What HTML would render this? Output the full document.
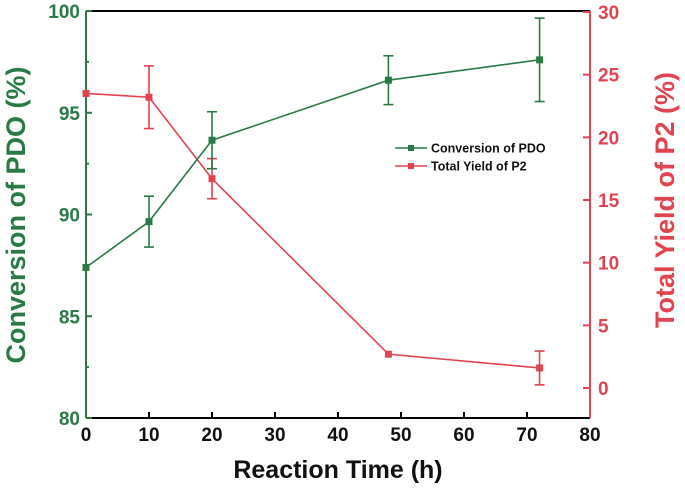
<!DOCTYPE html>
<html><head><meta charset="utf-8"><style>body{margin:0;background:#fff}svg{display:block}</style></head>
<body>
<svg id="chart" width="685" height="500" xmlns="http://www.w3.org/2000/svg" font-family="Liberation Sans, sans-serif" font-weight="bold"></svg>
<script>
const times = [0, 10, 20, 48, 72];
const conversion = [87.4, 89.65, 93.65, 96.6, 97.6];
const conversionErr = [0, 1.25, 1.4, 1.2, 2.05];
const yieldP2 = [23.5, 23.2, 16.7, 2.7, 1.6];
const yieldErr = [0, 2.5, 1.6, 0, 1.35];
const xTicks = [0, 10, 20, 30, 40, 50, 60, 70, 80];
const leftTicks = [80, 85, 90, 95, 100];
const rightTicks = [0, 5, 10, 15, 20, 25, 30];

const G = '#2a7a45', R = '#e0444f';
const X0 = 86, X1 = 590, YT = 11, YB = 418;
const xs = v => X0 + (v - 0) / 80 * (X1 - X0);
const yl = v => YB - (v - 80) / 20 * (YB - YT);
const yr = v => 388 - v * (388 - 12) / 30;
const svg = document.getElementById('chart');
const NS = 'http://www.w3.org/2000/svg';
function el(tag, attrs, parent) {
  const e = document.createElementNS(NS, tag);
  for (const k in attrs) e.setAttribute(k, attrs[k]);
  (parent || svg).appendChild(e);
  return e;
}
// axes
let a;
a = el('line', {x1: X0, y1: YT, x2: X1, y2: YT, stroke: '#000', 'stroke-width': 2});


a = el('line', {x1: X0, y1: YB, x2: X1, y2: YB, stroke: '#000', 'stroke-width': 2});


a = el('line', {x1: X0, y1: YT, x2: X0, y2: YB, stroke: G, 'stroke-width': 2});


a = el('line', {x1: X1, y1: YT, x2: X1, y2: YB, stroke: R, 'stroke-width': 2});



xTicks.forEach(v => {
  const x = xs(v);
  if (v > 0 && v < 80) el('line', {x1: x, y1: YB, x2: x, y2: YB - 6, stroke: '#000', 'stroke-width': 2});
  const t = el('text', {x: x, y: YB + 23, 'text-anchor': 'middle', 'font-size': 19, fill: '#111'});
  t.textContent = v;
  
  
});
leftTicks.forEach(v => {
  const y = yl(v);
  el('line', {x1: X0, y1: y, x2: X0 + 6, y2: y, stroke: G, 'stroke-width': 2});
  if (v < 100) el('line', {x1: X0, y1: yl(v + 2.5), x2: X0 + 3, y2: yl(v + 2.5), stroke: G, 'stroke-width': 2});
  const t = el('text', {x: X0 - 6, y: y + 7, 'text-anchor': 'end', 'font-size': 19, fill: G});
  t.textContent = v;
  
  
});
rightTicks.forEach(v => {
  const y = yr(v);
  el('line', {x1: X1, y1: y, x2: X1 - 7, y2: y, stroke: R, 'stroke-width': 2});
  const t = el('text', {x: X1 + 8, y: y + 7, 'font-size': 19, fill: R});
  t.textContent = v;
  
  
});

function series(vals, errs, yf, color, name) {
  const g = el('g', {});
  
  
  el('polyline', {points: times.map((t, i) => xs(t) + ',' + yf(vals[i])).join(' '), fill: 'none', stroke: color, 'stroke-width': 1.6}, g);
  times.forEach((t, i) => {
    const x = xs(t);
    if (errs[i] > 0) {
      const y1 = yf(vals[i] + errs[i]), y2 = yf(vals[i] - errs[i]);
      el('line', {x1: x, y1: y1, x2: x, y2: y2, stroke: color, 'stroke-width': 1.6}, g);
      el('line', {x1: x - 5, y1: y1, x2: x + 5, y2: y1, stroke: color, 'stroke-width': 1.6}, g);
      el('line', {x1: x - 5, y1: y2, x2: x + 5, y2: y2, stroke: color, 'stroke-width': 1.6}, g);
    }
    const m = el('rect', {x: x - 3.5, y: yf(vals[i]) - 3.5, width: 7, height: 7, fill: color}, g);
    
    
  });
}
series(yieldP2, yieldErr, yr, R, 'yield-series');
series(conversion, conversionErr, yl, G, 'conversion-series');

// legend
const lg = el('g', {});


[[G, 'Conversion of PDO', 148], [R, 'Total Yield of P2', 166]].forEach(([c, s, y]) => {
  el('line', {x1: 395, y1: y, x2: 427, y2: y, stroke: c, 'stroke-width': 1.6}, lg);
  el('rect', {x: 408, y: y - 3, width: 6, height: 6, fill: c}, lg);
  const t = el('text', {x: 431, y: y + 4.5, 'font-size': 12.5, fill: '#111'}, lg);
  t.textContent = s;
  
  
});

let t = el('text', {x: (X0 + X1) / 2, y: 478, 'text-anchor': 'middle', 'font-size': 25, fill: '#111'});
t.textContent = 'Reaction Time (h)';


t = el('text', {x: 0, y: 0, 'text-anchor': 'middle', 'font-size': 27, fill: G, transform: 'translate(25,215) rotate(-90)'});
t.textContent = 'Conversion of PDO (%)';


t = el('text', {x: 0, y: 0, 'text-anchor': 'middle', 'font-size': 27, fill: R, transform: 'translate(674,200) rotate(-90)'});
t.textContent = 'Total Yield of P2 (%)';


</script>
</body></html>
